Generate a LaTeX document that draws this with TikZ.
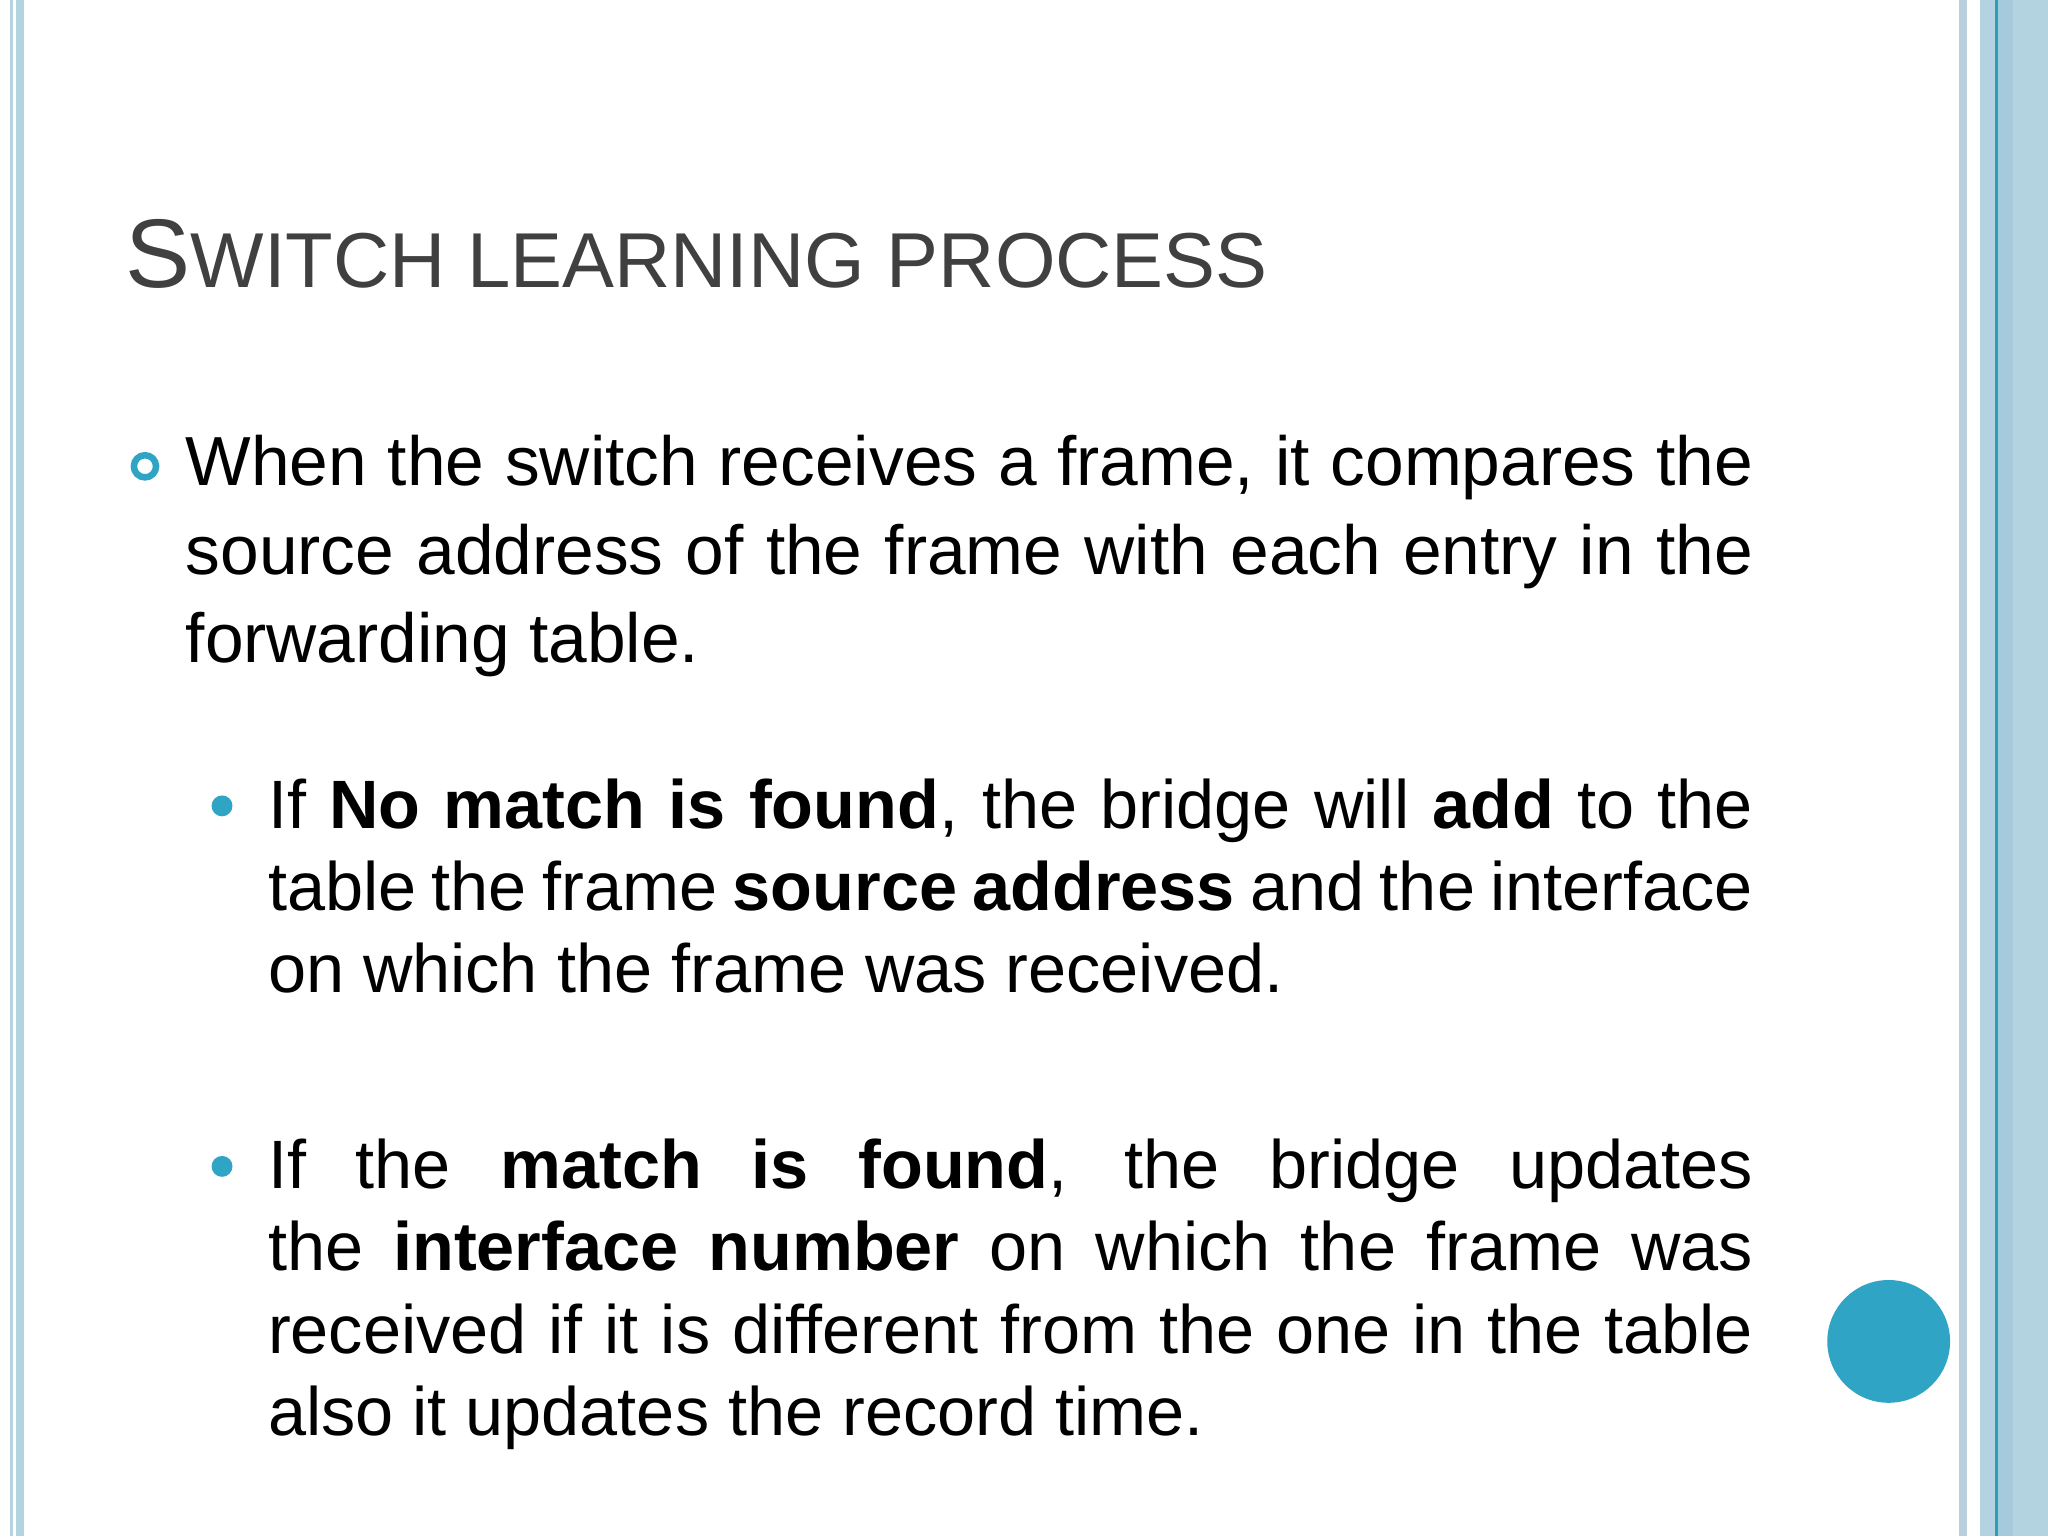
\documentclass[tikz,border=0pt]{standalone}
\usepackage{fontspec}
\setmainfont{Liberation Sans}
\hyphenpenalty=10000
\exhyphenpenalty=10000
\definecolor{stripe}{HTML}{B3D3E0}
\definecolor{stripeg}{HTML}{BACFDC}
\definecolor{teal}{HTML}{2FA4C4}
\definecolor{dteal}{HTML}{2E9FB5}
\definecolor{band}{HTML}{A5CADB}
\definecolor{ttl}{HTML}{404040}
\begin{document}
\begin{tikzpicture}[x=1pt,y=-1pt,
  body/.style={anchor=base west,inner sep=0pt,align=justify,font=\fontsize{53.2}{67.5}\selectfont},
  sub/.style={anchor=base west,inner sep=0pt,align=justify,text width=1137pt,font=\fontsize{52.4}{63}\selectfont}]
\useasboundingbox (0,0) rectangle (1568,1176);
\fill[white] (0,0) rectangle (1568,1176);
% left stripes
\fill[stripe] (7.7,0) rectangle (10,1176);
\fill[stripe] (12.3,0) rectangle (18.4,1176);
% right stripes
\fill[stripeg] (1500,0) rectangle (1506,1176);
\fill[stripe] (1516,0) rectangle (1568,1176);
\fill[band] (1530,0) rectangle (1541,1176);
\fill[dteal] (1527.5,0) rectangle (1530,1176);
% title
\node[anchor=base west,inner sep=0pt,text=ttl] (title) at (96,220)
  {\fontsize{74.7}{80}\selectfont S\fontsize{59.6}{80}\selectfont WITCH LEARNING PROCESS};
% bullets
\draw[teal,line width=5pt] (111,357) circle (8.5);
\fill[teal] (170,617) circle (8);
\fill[teal] (170,893) circle (8);
\node[body,text width=1200pt] (p1) at (142,372)
  {When the switch receives a frame, it compares the source address of the frame with each entry in the forwarding table.};
\node[sub] (p2) at (205,634)
  {If \textbf{No match is found}, the bridge will \textbf{add} to the table the frame \textbf{source address} and the interface on which the frame was received.};
\node[sub] (p3) at (205,910)
  {If the \textbf{match is found}, the bridge updates the \textbf{interface number} on which the frame was received if it is different from the one in the table also it updates the record time.};
\fill[teal] (1446,1027) circle (47);
\end{tikzpicture}
\end{document}
